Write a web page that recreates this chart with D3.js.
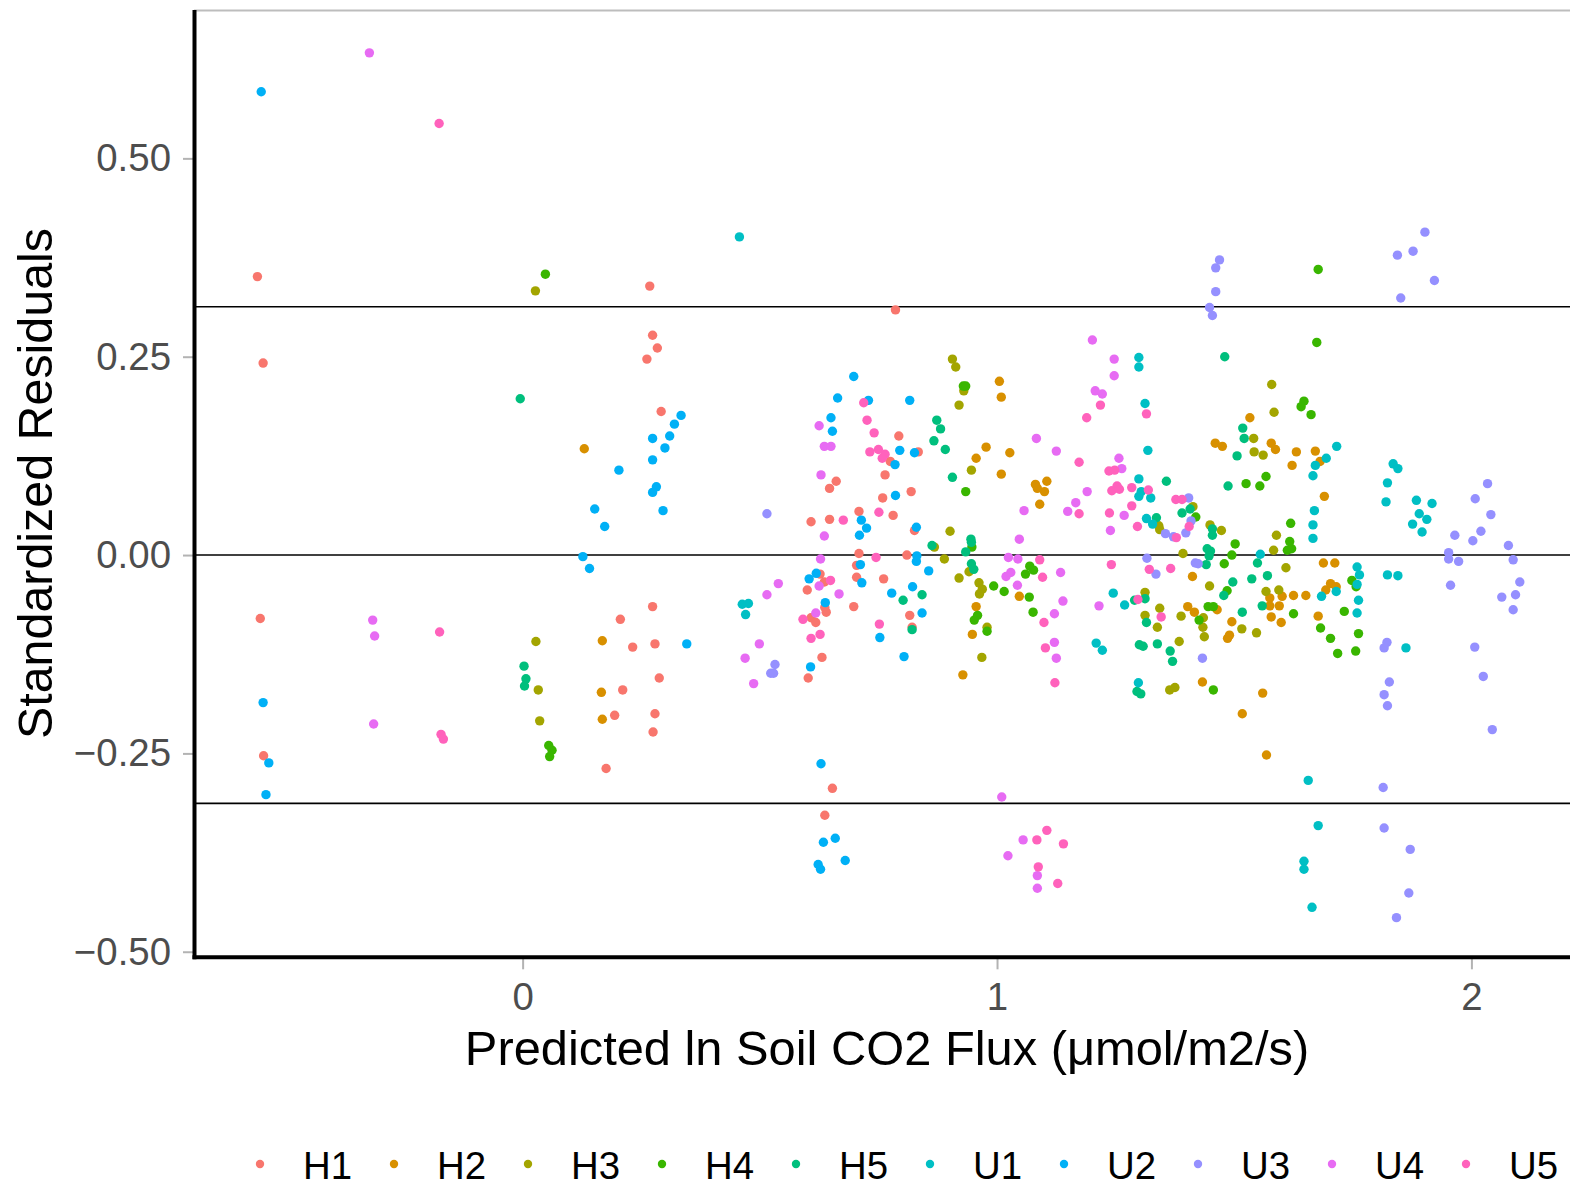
<!DOCTYPE html>
<html>
<head>
<meta charset="utf-8">
<script src="https://cdn.jsdelivr.net/npm/d3@7"></script>
<style>
  html, body { margin: 0; padding: 0; background: #ffffff; }
  svg { display: block; font-family: "Liberation Sans", Arial, Helvetica, sans-serif; }
</style>
</head>
<body>
<svg id="chart" width="1570" height="1188"></svg>
<script>
// ---- Data (x = predicted ln flux, y = standardized residual) ----
const groups = ["H1","H2","H3","H4","H5","U1","U2","U3","U4","U5"];
const colors = ["#F8766D","#D89000","#A3A500","#39B600","#00BF7D","#00BFC4","#00B0F6","#9590FF","#E76BF3","#FF62BC"];
const xTicks = [0, 1, 2];
const yTicks = [-0.5, -0.25, 0, 0.25, 0.5];
const refLines = [0, 0.313, -0.313];

const H1 = [[-0.559,0.351],[-0.547,0.242],[-0.553,-0.080],[-0.546,-0.253],[0.268,0.339],[0.274,0.277],[0.284,0.261],[0.262,0.247],[0.292,0.181],[0.274,-0.065],[0.206,-0.081],[0.232,-0.116],[0.279,-0.112],[0.211,-0.170],[0.288,-0.155],[0.194,-0.202],[0.279,-0.200],[0.275,-0.223],[0.176,-0.269],[0.786,0.309],[0.793,0.150],[0.775,0.118],[0.834,0.130],[0.661,0.093],[0.647,0.084],[0.764,0.101],[0.819,0.080],[0.759,0.072],[0.709,0.055],[0.781,0.050],[0.608,0.042],[0.647,0.045],[0.826,0.031],[0.709,0.002],[0.810,0.000],[0.704,-0.013],[0.704,-0.028],[0.761,-0.030],[0.816,-0.076],[0.821,-0.091],[0.698,-0.065],[0.627,-0.024],[0.636,-0.034],[0.600,-0.044],[0.637,-0.066],[0.640,-0.072],[0.608,-0.079],[0.618,-0.085],[0.631,-0.129],[0.602,-0.155],[0.653,-0.294],[0.637,-0.328]];
const H2 = [[0.130,0.134],[0.168,-0.108],[0.166,-0.173],[0.168,-0.207],[1.005,0.219],[1.009,0.199],[0.977,0.136],[0.956,0.122],[1.027,0.129],[1.009,0.102],[1.081,0.089],[1.085,0.084],[1.100,0.080],[1.105,0.093],[1.090,0.064],[0.956,-0.065],[0.948,-0.100],[0.928,-0.151],[1.047,-0.052],[1.533,0.173],[1.460,0.141],[1.475,0.137],[1.578,0.141],[1.587,0.133],[1.631,0.130],[1.622,0.113],[1.412,-0.027],[1.575,-0.054],[1.601,-0.052],[1.625,-0.051],[1.575,-0.064],[1.595,-0.064],[1.578,-0.078],[1.599,-0.085],[1.495,-0.084],[1.486,-0.105],[1.490,-0.101],[1.402,-0.065],[1.416,-0.072],[1.464,-0.069],[1.433,-0.160],[1.560,-0.174],[1.517,-0.200],[1.568,-0.252],[1.671,0.131],[1.681,0.118],[1.690,0.074],[1.688,-0.010],[1.712,-0.010],[1.703,-0.036],[1.693,-0.044],[1.715,-0.040],[1.651,-0.051],[1.677,-0.077]];
const H3 = [[0.027,0.333],[0.028,-0.109],[0.033,-0.170],[0.036,-0.209],[0.906,0.247],[0.913,0.237],[0.930,0.207],[0.920,0.189],[0.946,0.107],[0.901,0.030],[0.868,0.010],[0.889,-0.005],[0.920,-0.029],[0.941,-0.021],[0.962,-0.035],[0.969,-0.043],[0.963,-0.049],[0.979,-0.091],[0.968,-0.129],[1.579,0.215],[1.584,0.180],[1.541,0.147],[1.542,0.130],[1.561,0.126],[1.413,0.061],[1.341,0.037],[1.343,0.032],[1.449,0.038],[1.473,0.031],[1.392,0.002],[1.589,0.025],[1.583,0.006],[1.448,-0.039],[1.609,-0.016],[1.567,-0.046],[1.594,-0.044],[1.516,-0.093],[1.547,-0.098],[1.435,-0.079],[1.434,-0.091],[1.437,-0.103],[1.388,-0.077],[1.384,-0.109],[1.364,-0.170],[1.375,-0.167],[1.312,-0.047],[1.343,-0.067],[1.312,-0.076],[1.338,-0.091]];
const H4 = [[0.048,0.354],[0.055,-0.240],[0.062,-0.246],[0.057,-0.254],[0.929,0.213],[0.934,0.213],[0.934,0.080],[0.947,0.010],[0.993,-0.039],[1.015,-0.046],[0.959,-0.076],[0.952,-0.082],[0.979,-0.096],[1.069,-0.014],[1.077,-0.019],[1.060,-0.024],[1.068,-0.053],[1.076,-0.072],[1.647,0.194],[1.641,0.187],[1.662,0.177],[1.567,0.099],[1.525,0.090],[1.554,0.087],[1.419,0.048],[1.502,0.014],[1.495,0.000],[1.619,0.040],[1.617,0.017],[1.612,0.006],[1.621,0.008],[1.479,-0.011],[1.485,-0.045],[1.445,-0.065],[1.456,-0.065],[1.426,-0.082],[1.456,-0.170],[1.625,-0.074],[1.677,0.360],[1.674,0.268],[1.748,-0.032],[1.757,-0.040],[1.732,-0.071],[1.682,-0.092],[1.703,-0.105],[1.762,-0.099],[1.718,-0.124],[1.756,-0.121]];
const H5 = [[-0.005,0.197],[0.003,-0.140],[0.007,-0.156],[0.004,-0.165],[0.873,0.170],[0.881,0.159],[0.867,0.144],[0.891,0.133],[0.906,0.098],[0.863,0.012],[0.945,0.020],[0.946,0.016],[0.934,0.004],[0.802,-0.057],[0.842,-0.050],[0.821,-0.094],[0.946,-0.011],[0.951,-0.018],[1.480,0.250],[1.518,0.160],[1.521,0.147],[1.506,0.125],[1.487,0.087],[1.357,0.093],[1.407,0.058],[1.390,0.053],[1.336,0.047],[1.454,0.033],[1.454,0.025],[1.443,0.008],[1.450,0.005],[1.447,-0.001],[1.441,-0.012],[1.497,-0.034],[1.478,-0.051],[1.537,-0.030],[1.570,-0.026],[1.549,-0.010],[1.559,-0.064],[1.517,-0.072],[1.295,-0.172],[1.303,-0.175],[1.300,-0.113],[1.308,-0.115],[1.338,-0.112],[1.365,-0.121],[1.370,-0.134],[1.290,-0.057],[1.312,-0.055],[1.315,-0.085]];
const U1 = [[0.457,0.401],[0.463,-0.062],[0.476,-0.061],[0.470,-0.075],[1.299,0.249],[1.299,0.237],[1.312,0.191],[1.318,0.132],[1.299,0.096],[1.304,0.080],[1.299,0.074],[1.324,0.072],[1.315,0.046],[1.328,0.039],[1.555,0.001],[1.298,-0.161],[1.209,-0.111],[1.222,-0.120],[1.245,-0.048],[1.269,-0.063],[1.716,0.137],[1.694,0.122],[1.671,0.113],[1.666,0.100],[1.669,0.056],[1.666,0.038],[1.666,0.021],[1.835,0.115],[1.845,0.109],[1.823,0.091],[1.820,0.067],[1.884,0.069],[1.917,0.065],[1.890,0.052],[1.906,0.045],[1.876,0.039],[1.896,0.029],[1.656,-0.284],[1.677,-0.341],[1.647,-0.386],[1.647,-0.396],[1.664,-0.444],[1.862,-0.117],[1.759,-0.015],[1.764,-0.025],[1.823,-0.025],[1.845,-0.026],[1.759,-0.037],[1.715,-0.046],[1.684,-0.052],[1.762,-0.057],[1.759,-0.073]];
const U2 = [[-0.551,0.584],[-0.547,-0.186],[-0.535,-0.262],[-0.541,-0.302],[0.334,0.176],[0.320,0.165],[0.274,0.147],[0.310,0.150],[0.300,0.135],[0.274,0.120],[0.203,0.107],[0.282,0.086],[0.274,0.079],[0.152,0.058],[0.296,0.056],[0.173,0.036],[0.127,-0.002],[0.141,-0.017],[0.346,-0.112],[0.698,0.225],[0.664,0.198],[0.729,0.195],[0.816,0.195],[0.650,0.173],[0.653,0.156],[0.795,0.132],[0.826,0.129],[0.785,0.114],[0.786,0.075],[0.714,0.044],[0.725,0.034],[0.710,0.025],[0.830,0.035],[0.831,-0.001],[0.830,-0.008],[0.712,-0.012],[0.715,-0.035],[0.856,-0.020],[0.822,-0.040],[0.778,-0.048],[0.842,-0.073],[0.753,-0.104],[0.804,-0.128],[0.619,-0.023],[0.604,-0.030],[0.638,-0.060],[0.607,-0.141],[0.629,-0.263],[0.659,-0.357],[0.634,-0.362],[0.623,-0.390],[0.628,-0.396],[0.680,-0.385]];
const U3 = [[0.515,0.052],[0.532,-0.138],[0.523,-0.149],[0.529,-0.149],[1.469,0.372],[1.461,0.362],[1.461,0.332],[1.448,0.312],[1.454,0.302],[1.404,0.072],[1.409,0.043],[1.398,0.028],[1.372,0.023],[1.355,0.027],[1.316,-0.004],[1.335,-0.024],[1.418,-0.010],[1.424,-0.011],[1.433,-0.130],[1.902,0.407],[1.844,0.378],[1.877,0.383],[1.922,0.346],[1.851,0.324],[2.034,0.090],[2.008,0.071],[2.041,0.051],[2.020,0.030],[1.965,0.025],[2.003,0.018],[2.078,0.012],[1.952,0.003],[1.952,-0.005],[1.973,-0.008],[2.088,-0.006],[1.956,-0.038],[2.102,-0.034],[2.064,-0.053],[2.093,-0.050],[2.088,-0.069],[2.007,-0.116],[2.025,-0.153],[2.044,-0.220],[1.822,-0.110],[1.816,-0.117],[1.827,-0.160],[1.816,-0.176],[1.823,-0.190],[1.814,-0.293],[1.816,-0.344],[1.871,-0.371],[1.868,-0.426],[1.842,-0.457]];
const U4 = [[-0.323,0.633],[-0.316,-0.082],[-0.312,-0.102],[-0.314,-0.213],[0.539,-0.036],[0.515,-0.050],[0.499,-0.112],[0.469,-0.130],[0.487,-0.162],[0.625,0.163],[0.636,0.137],[0.650,0.137],[1.083,0.147],[0.629,0.101],[1.057,0.056],[0.636,0.024],[1.047,0.020],[0.628,-0.005],[1.024,-0.003],[1.044,-0.005],[1.029,-0.022],[1.019,-0.027],[1.043,-0.038],[0.625,-0.039],[0.667,-0.049],[0.618,-0.073],[1.010,-0.305],[1.023,-0.379],[1.055,-0.359],[1.085,-0.404],[1.085,-0.420],[1.201,0.271],[1.247,0.247],[1.247,0.226],[1.207,0.207],[1.222,0.203],[1.125,0.131],[1.257,0.122],[1.263,0.109],[1.190,0.080],[1.166,0.066],[1.149,0.055],[1.268,0.050],[1.239,0.031],[1.134,-0.022],[1.215,-0.064],[1.139,-0.058],[1.121,-0.074],[1.121,-0.110],[1.125,-0.130]];
const U5 = [[-0.176,0.544],[-0.175,-0.097],[-0.172,-0.226],[-0.167,-0.232],[0.591,-0.081],[0.719,0.192],[0.726,0.170],[0.741,0.154],[0.732,0.130],[0.750,0.133],[0.764,0.127],[0.758,0.122],[0.751,0.054],[0.676,0.044],[0.745,-0.003],[1.090,-0.006],[0.752,-0.087],[0.649,-0.032],[0.627,-0.100],[0.608,-0.105],[1.096,-0.028],[1.099,-0.085],[1.102,-0.117],[1.084,-0.359],[1.105,-0.347],[1.140,-0.364],[1.087,-0.393],[1.128,-0.414],[1.218,0.189],[1.189,0.173],[1.315,0.178],[1.173,0.117],[1.236,0.106],[1.248,0.107],[1.253,0.087],[1.242,0.081],[1.258,0.083],[1.284,0.085],[1.319,0.082],[1.173,0.052],[1.237,0.053],[1.284,0.062],[1.377,0.070],[1.390,0.070],[1.378,0.022],[1.405,0.036],[1.296,0.036],[1.241,-0.012],[1.321,-0.018],[1.366,-0.017],[1.297,-0.056],[1.346,-0.078],[1.122,-0.161]];

const seriesData = [H1, H2, H3, H4, H5, U1, U2, U3, U4, U5];

// ---- Layout ----
const svg = d3.select("#chart");
const panelLeft = 194, panelRight = 1570, panelTop = 10, panelBottom = 957.3;

const x = d3.scaleLinear().domain([-0.6927, 2.2078]).range([panelLeft, panelRight]);
const y = d3.scaleLinear().domain([-0.507, 0.687]).range([panelBottom, panelTop]);

// thin top border
svg.append("line")
  .attr("x1", panelLeft).attr("x2", panelRight).attr("y1", panelTop + 0.5).attr("y2", panelTop + 0.5)
  .attr("stroke", "#bdbdbd").attr("stroke-width", 2);

// reference lines
svg.append("g").selectAll("line").data(refLines).join("line")
  .attr("x1", panelLeft).attr("x2", panelRight)
  .attr("y1", d => y(d)).attr("y2", d => y(d))
  .attr("stroke", "#000").attr("stroke-width", 1.6);

// points
const pts = svg.append("g");
seriesData.forEach((arr, i) => {
  pts.append("g").selectAll("circle").data(arr).join("circle")
    .attr("cx", d => x(d[0]))
    .attr("cy", d => y(d[1]))
    .attr("r", 4.7)
    .attr("fill", colors[i]);
});

// axes
const fmt = d => (d < 0 ? "\u2212" : "") + Math.abs(d).toFixed(2);
const yAxis = svg.append("g").attr("transform", `translate(${panelLeft},0)`)
  .call(d3.axisLeft(y).tickValues(yTicks).tickFormat(fmt).tickSize(11).tickPadding(12));
const xAxis = svg.append("g").attr("transform", `translate(0,${panelBottom})`)
  .call(d3.axisBottom(x).tickValues(xTicks).tickFormat(d3.format("d")).tickSize(12).tickPadding(13));
[yAxis, xAxis].forEach(g => {
  g.select(".domain").remove();
  g.selectAll(".tick line").attr("stroke", "#b3b3b3").attr("stroke-width", 2);
  g.selectAll(".tick text").attr("fill", "#4d4d4d")
    .style("font-size", "38.4px").style("font-family", '"Liberation Sans", Arial, sans-serif');
});

// axis lines
svg.append("line").attr("x1", panelLeft + 0.5).attr("x2", panelLeft + 0.5).attr("y1", panelTop).attr("y2", panelBottom + 2)
  .attr("stroke", "#000").attr("stroke-width", 4);
svg.append("line").attr("x1", panelLeft - 1.5).attr("x2", panelRight).attr("y1", panelBottom).attr("y2", panelBottom)
  .attr("stroke", "#000").attr("stroke-width", 4);

// titles
svg.append("text").attr("x", 887).attr("y", 1065).attr("text-anchor", "middle")
  .style("font-size", "48.8px").attr("fill", "#000")
  .text("Predicted ln Soil CO2 Flux (\u03bcmol/m2/s)");
svg.append("text").attr("transform", "translate(52,483.5) rotate(-90)").attr("text-anchor", "middle")
  .style("font-size", "48.4px").attr("fill", "#000")
  .text("Standardized Residuals");

// legend
const legX = d3.scalePoint().domain(groups).range([260, 1466]);
const leg = svg.append("g").selectAll("g").data(groups).join("g")
  .attr("transform", d => `translate(${legX(d)},1164)`);
leg.append("circle").attr("r", 4.2).attr("fill", (d, i) => colors[i]);
leg.append("text").attr("x", 43).attr("y", 15).style("font-size", "38.4px").attr("fill", "#000").text(d => d);
</script>
</body>
</html>
